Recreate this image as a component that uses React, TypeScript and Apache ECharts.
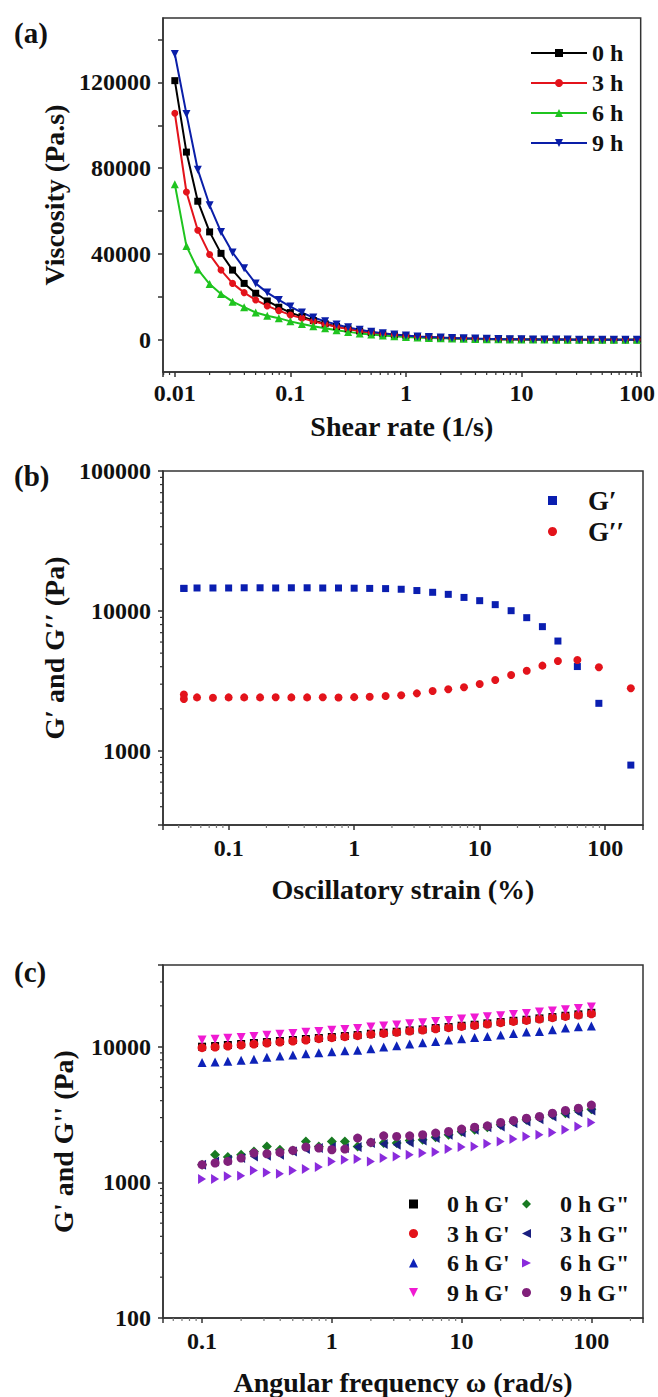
import { useEffect, useRef } from 'react';
import * as echarts from 'echarts';

const FONT = '"Liberation Serif", "Times New Roman", serif';
const INK = '#111';
const AXIS = '#333';

// ---------- Panel (a): viscosity vs shear rate ----------
const shearRate = [0.01, 0.0126, 0.0158, 0.02, 0.0251, 0.0316, 0.0398, 0.0501, 0.0631, 0.0794, 0.1, 0.126, 0.158, 0.2, 0.251, 0.316, 0.398, 0.501, 0.631, 0.794, 1, 1.26, 1.58, 2, 2.51, 3.16, 3.98, 5.01, 6.31, 7.94, 10, 12.6, 15.8, 20, 25.1, 31.6, 39.8, 50.1, 63.1, 79.4, 100];
const visc0h = [120800, 87500, 64600, 50300, 40300, 32500, 26300, 21700, 18100, 15200, 12700, 10800, 9000, 7500, 6200, 5100, 4100, 3300, 2700, 2200, 1800, 1450, 1170, 950, 770, 620, 500, 400, 320, 260, 210, 170, 135, 110, 88, 70, 56, 45, 36, 29, 23];
const visc3h = [105600, 68900, 51100, 39800, 32500, 26300, 22000, 18600, 15800, 13600, 11600, 10100, 8600, 7300, 6100, 5000, 4100, 3300, 2700, 2200, 1750, 1400, 1130, 910, 730, 590, 470, 380, 300, 245, 195, 155, 125, 100, 80, 64, 51, 41, 33, 26, 21];
const visc6h = [72500, 43700, 32800, 26000, 21400, 17800, 15200, 12700, 11200, 10100, 8600, 7400, 6300, 5400, 4500, 3700, 3000, 2500, 2000, 1650, 1350, 1100, 880, 710, 570, 460, 370, 300, 240, 190, 155, 125, 100, 80, 64, 51, 41, 33, 26, 21, 17];
const visc9h = [133200, 105300, 79300, 62700, 50300, 40700, 33300, 26300, 22000, 18600, 15500, 12700, 10400, 8600, 7100, 5800, 4700, 3800, 3100, 2500, 2000, 1600, 1300, 1050, 850, 690, 560, 450, 360, 290, 230, 190, 150, 120, 100, 80, 65, 52, 42, 34, 27];
const viscLabelTicks = [0, 40000, 80000, 120000];
const viscTicks = [0, 20000, 40000, 60000, 80000, 100000, 120000, 140000];
const shearMinor = [0.008, 0.009, 0.02, 0.03, 0.04, 0.05, 0.06, 0.07, 0.08, 0.09, 0.2, 0.3, 0.4, 0.5, 0.6, 0.7, 0.8, 0.9, 2, 3, 4, 5, 6, 7, 8, 9, 20, 30, 40, 50, 60, 70, 80, 90];

// ---------- Panel (b): amplitude sweep ----------
const strain = [0.044, 0.044, 0.056, 0.075, 0.1, 0.133, 0.178, 0.237, 0.316, 0.422, 0.562, 0.75, 1, 1.33, 1.78, 2.37, 3.16, 4.22, 5.62, 7.5, 10, 13.3, 17.8, 23.7, 31.6, 42, 60, 89, 160];
const strainGp = [14500, 14500, 14600, 14600, 14600, 14650, 14650, 14600, 14650, 14650, 14600, 14600, 14550, 14500, 14450, 14300, 14000, 13600, 13150, 12500, 11850, 11100, 10050, 8960, 7730, 6100, 4010, 2190, 793];
const strainGpp = [2530, 2350, 2415, 2400, 2415, 2415, 2415, 2420, 2415, 2415, 2420, 2410, 2425, 2440, 2470, 2500, 2580, 2680, 2760, 2850, 3010, 3210, 3490, 3740, 4070, 4390, 4470, 3960, 2810];
const strainMinorX = [0.04, 0.05, 0.06, 0.07, 0.08, 0.09, 0.2, 0.3, 0.4, 0.5, 0.6, 0.7, 0.8, 0.9, 2, 3, 4, 5, 6, 7, 8, 9, 20, 30, 40, 50, 60, 70, 80, 90];
const modMinorB = [400, 500, 600, 700, 800, 900, 2000, 3000, 4000, 5000, 6000, 7000, 8000, 9000, 20000, 30000, 40000, 50000, 60000, 70000, 80000, 90000];

// ---------- Panel (c): frequency sweep ----------
const freq = [0.1, 0.126, 0.158, 0.2, 0.251, 0.316, 0.398, 0.501, 0.631, 0.794, 1, 1.26, 1.58, 2, 2.51, 3.16, 3.98, 5.01, 6.31, 7.94, 10, 12.6, 15.8, 20, 25.1, 31.6, 39.8, 50.1, 63.1, 79.4, 100];
const gp0h = [10000, 10110, 10290, 10460, 10640, 10820, 11010, 11200, 11390, 11580, 11780, 11980, 12180, 12460, 12680, 12890, 13190, 13410, 13720, 13950, 14270, 14520, 14850, 15190, 15530, 15800, 16160, 16530, 16910, 17300, 17780];
const gp3h = [9830, 9940, 10110, 10290, 10460, 10640, 10820, 11010, 11200, 11450, 11650, 11850, 12050, 12330, 12530, 12750, 13040, 13260, 13560, 13800, 14110, 14350, 14680, 15020, 15360, 15620, 15980, 16350, 16720, 17100, 17490];
const gp6h = [7630, 7710, 7800, 7930, 8070, 8350, 8540, 8690, 8880, 9030, 9190, 9350, 9400, 9670, 9940, 10170, 10460, 10700, 10940, 11200, 11450, 11710, 11910, 12180, 12530, 12820, 12960, 13340, 13720, 14030, 14190];
const gp9h = [11200, 11320, 11520, 11710, 11910, 12120, 12330, 12530, 12750, 12960, 13190, 13410, 13640, 13950, 14190, 14440, 14770, 15020, 15360, 15620, 15980, 16250, 16630, 16910, 17300, 17590, 18000, 18300, 18720, 19150, 19590];
const gpp0h = [1349, 1597, 1535, 1597, 1690, 1841, 1739, 1719, 2003, 1841, 2003, 2003, 1841, 1970, 1946, 1946, 2037, 2060, 2154, 2242, 2371, 2440, 2552, 2655, 2809, 2889, 3021, 3143, 3235, 3385, 3463];
const gpp3h = [1349, 1427, 1468, 1510, 1553, 1571, 1597, 1690, 1759, 1789, 1820, 1789, 1820, 1946, 1914, 1892, 1970, 2037, 2120, 2242, 2332, 2440, 2552, 2582, 2730, 2809, 2923, 3056, 3197, 3290, 3385];
const gpp6h = [1058, 1058, 1107, 1120, 1225, 1184, 1158, 1225, 1254, 1297, 1427, 1468, 1485, 1427, 1510, 1553, 1597, 1643, 1671, 1759, 1820, 1841, 1925, 2003, 2084, 2181, 2242, 2332, 2440, 2582, 2763];
const gpp9h = [1349, 1388, 1427, 1510, 1643, 1625, 1661, 1719, 1820, 1789, 1739, 1759, 2120, 1970, 2204, 2181, 2204, 2242, 2306, 2371, 2468, 2552, 2611, 2763, 2857, 2971, 3056, 3235, 3385, 3522, 3710];
const freqMinorX = [0.06, 0.07, 0.08, 0.09, 0.2, 0.3, 0.4, 0.5, 0.6, 0.7, 0.8, 0.9, 2, 3, 4, 5, 6, 7, 8, 9, 20, 30, 40, 50, 60, 70, 80, 90, 200];
const modMinorC = [200, 300, 400, 500, 600, 700, 800, 900, 2000, 3000, 4000, 5000, 6000, 7000, 8000, 9000, 20000, 30000];

const legendA = ['0 h', '3 h', '6 h', '9 h'];
const legendB = ['G\u2032', 'G\u2032\u2032'];
const legendC1 = ["0 h G'", "3 h G'", "6 h G'", "9 h G'"];
const legendC2 = ['0 h G"', '3 h G"', '6 h G"', '9 h G"'];

const DOWN = 'path://M0,0L10,0L5,10Z';
const LEFT = 'path://M10,0L10,10L0,5Z';
const RIGHT = 'path://M0,0L0,10L10,5Z';

const zip = (xs: number[], ys: number[]) => xs.map((x, i) => [x, ys[i]]);

const logLabel = (v: number) => {
  const l = Math.log10(v);
  const p = Math.round(l);
  if (Math.abs(l - p) > 1e-6) return '';
  return p < 0 ? Math.pow(10, p).toFixed(-p) : String(Math.pow(10, p));
};

const txt = (size: number) => ({ fontFamily: FONT, fontWeight: 'bold' as const, fontSize: size, color: INK });

function minorTicks(idx: number, values: number[], dir: 'x' | 'y', ref: number, len: number, color: string) {
  return {
    type: 'custom',
    name: 'minor-' + idx + dir,
    xAxisIndex: idx,
    yAxisIndex: idx,
    silent: true,
    clip: false,
    z: 3,
    data: values.map((v) => (dir === 'x' ? [v, ref] : [ref, v])),
    renderItem: (_p: any, api: any) => {
      const pt = api.coord([api.value(0), api.value(1)]);
      const shape = dir === 'x'
        ? { x1: pt[0], y1: pt[1], x2: pt[0], y2: pt[1] + len }
        : { x1: pt[0] - len, y1: pt[1], x2: pt[0], y2: pt[1] };
      return { type: 'line', shape, style: { stroke: color, lineWidth: 1.2 } };
    },
  };
}

const axisCommon = {
  splitLine: { show: false },
  axisLine: { show: true, onZero: false, lineStyle: { color: AXIS, width: 1.5 } },
  axisTick: { show: true, inside: false, length: 5, lineStyle: { color: AXIS, width: 1.5 } },
  nameLocation: 'middle' as const,
  nameTextStyle: txt(28),
};

const AX = [0.0079, 107.6];
const AY = [-15000, 150000];
const BX = [0.03, 200];
const BY = [296, 100000];
const CX = [0.05, 250];
const CY = [100, 40000];

const scatterStyle = { opacity: 1 };

export default function App() {
  const ref = useRef<HTMLDivElement>(null);
  useEffect(() => {
    document.body.style.margin = '0';
    document.body.style.background = '#fff';
    const chart = echarts.init(ref.current!, null, { renderer: 'svg' });
    const gridStyle = { show: true, borderColor: AXIS, borderWidth: 1.5, backgroundColor: 'transparent' };
    const option: any = {
      animation: false,
      backgroundColor: '#fff',
      title: [
        { text: '(a)', left: 9, top: 13, textStyle: txt(29) },
        { text: '(b)', left: 9, top: 456, textStyle: txt(29) },
        { text: '(c)', left: 9, top: 952, textStyle: txt(29) },
      ],
      grid: [
        { left: 163, top: 18, width: 480, height: 354, ...gridStyle },
        { left: 163, top: 471, width: 480, height: 354, ...gridStyle },
        { left: 163, top: 965, width: 480, height: 353, ...gridStyle },
      ],
      xAxis: [
        { ...axisCommon, gridIndex: 0, type: 'log', logBase: 10, min: AX[0], max: AX[1], name: 'Shear rate (1/s)', nameGap: 40,
          axisLabel: { ...txt(24), margin: 9, formatter: logLabel } },
        { ...axisCommon, gridIndex: 1, type: 'log', logBase: 10, min: BX[0], max: BX[1], name: 'Oscillatory strain (%)', nameGap: 50,
          axisLabel: { ...txt(24), margin: 11, formatter: logLabel } },
        { ...axisCommon, gridIndex: 2, type: 'log', logBase: 10, min: CX[0], max: CX[1], name: 'Angular frequency \u03c9 (rad/s)', nameGap: 50,
          axisLabel: { ...txt(24), margin: 11, formatter: logLabel } },
      ],
      yAxis: [
        { ...axisCommon, gridIndex: 0, type: 'value', min: AY[0], max: AY[1], name: 'Viscosity (Pa.s)', nameGap: 86,
          axisTick: { ...axisCommon.axisTick, customValues: viscTicks },
          axisLabel: { ...txt(24), margin: 12, customValues: viscLabelTicks, formatter: (v: number) => String(v) } },
        { ...axisCommon, gridIndex: 1, type: 'log', logBase: 10, min: BY[0], max: BY[1], name: 'G\u2032 and G\u2032\u2032 (Pa)', nameGap: 86,
          axisLabel: { ...txt(24), margin: 12, formatter: logLabel } },
        { ...axisCommon, gridIndex: 2, type: 'log', logBase: 10, min: CY[0], max: CY[1], name: "G' and G'' (Pa)", nameGap: 86,
          axisLabel: { ...txt(24), margin: 12, formatter: logLabel } },
      ],
      legend: [
        { data: legendA, orient: 'vertical', left: 525, top: 36, itemWidth: 56, itemHeight: 10, itemGap: 6, selectedMode: false, textStyle: txt(24) },
        { data: legendB, orient: 'vertical', left: 543, top: 482, itemWidth: 9, itemHeight: 9, itemGap: 4, selectedMode: false, textStyle: { ...txt(27), padding: [0, 0, 0, 26] } },
        { data: legendC1, orient: 'vertical', left: 404, top: 1187, itemWidth: 9, itemHeight: 9, itemGap: 5.5, selectedMode: false, textStyle: { ...txt(24), padding: [0, 0, 0, 24] } },
        { data: legendC2, orient: 'vertical', left: 517, top: 1187, itemWidth: 9, itemHeight: 9, itemGap: 5.5, selectedMode: false, textStyle: { ...txt(24), padding: [0, 0, 0, 24] } },
      ],
      series: [
        // (a)
        { name: '0 h', type: 'line', xAxisIndex: 0, yAxisIndex: 0, data: zip(shearRate, visc0h), symbol: 'rect', symbolSize: 7, color: '#000000', lineStyle: { width: 2 } },
        { name: '3 h', type: 'line', xAxisIndex: 0, yAxisIndex: 0, data: zip(shearRate, visc3h), symbol: 'circle', symbolSize: 7, color: '#e3131b', lineStyle: { width: 2 } },
        { name: '6 h', type: 'line', xAxisIndex: 0, yAxisIndex: 0, data: zip(shearRate, visc6h), symbol: 'triangle', symbolSize: 8, color: '#1fc41f', lineStyle: { width: 2 } },
        { name: '9 h', type: 'line', xAxisIndex: 0, yAxisIndex: 0, data: zip(shearRate, visc9h), symbol: DOWN, symbolSize: 8, color: '#0a1ea8', lineStyle: { width: 2 } },
        // (b)
        { name: legendB[0], type: 'scatter', xAxisIndex: 1, yAxisIndex: 1, data: zip(strain, strainGp), symbol: 'rect', symbolSize: 7, color: '#0a1eb0', itemStyle: scatterStyle },
        { name: legendB[1], type: 'scatter', xAxisIndex: 1, yAxisIndex: 1, data: zip(strain, strainGpp), symbol: 'circle', symbolSize: 8, color: '#e3131b', itemStyle: scatterStyle },
        // (c)
        { name: legendC1[0], type: 'scatter', xAxisIndex: 2, yAxisIndex: 2, data: zip(freq, gp0h), symbol: 'rect', symbolSize: 8, color: '#000000', itemStyle: scatterStyle },
        { name: legendC1[1], type: 'scatter', xAxisIndex: 2, yAxisIndex: 2, data: zip(freq, gp3h), symbol: 'circle', symbolSize: 9, color: '#e3131b', itemStyle: scatterStyle },
        { name: legendC1[2], type: 'scatter', xAxisIndex: 2, yAxisIndex: 2, data: zip(freq, gp6h), symbol: 'triangle', symbolSize: 9, color: '#0d22b8', itemStyle: scatterStyle },
        { name: legendC1[3], type: 'scatter', xAxisIndex: 2, yAxisIndex: 2, data: zip(freq, gp9h), symbol: DOWN, symbolSize: 9, color: '#f01ad2', itemStyle: scatterStyle },
        { name: legendC2[0], type: 'scatter', xAxisIndex: 2, yAxisIndex: 2, data: zip(freq, gpp0h), symbol: 'diamond', symbolSize: 10, color: '#187a22', itemStyle: scatterStyle },
        { name: legendC2[1], type: 'scatter', xAxisIndex: 2, yAxisIndex: 2, data: zip(freq, gpp3h), symbol: LEFT, symbolSize: [8, 10], color: '#1a1f80', itemStyle: scatterStyle },
        { name: legendC2[2], type: 'scatter', xAxisIndex: 2, yAxisIndex: 2, data: zip(freq, gpp6h), symbol: RIGHT, symbolSize: [8, 10], color: '#8a2bdc', itemStyle: scatterStyle },
        { name: legendC2[3], type: 'scatter', xAxisIndex: 2, yAxisIndex: 2, data: zip(freq, gpp9h), symbol: 'circle', symbolSize: 9, color: '#80207a', itemStyle: scatterStyle },
        // minor ticks
        minorTicks(0, shearMinor, 'x', AY[0], 3, AXIS),
        minorTicks(1, strainMinorX, 'x', BY[0], 3, '#777'),
        minorTicks(1, modMinorB, 'y', BX[0], 3, AXIS),
        minorTicks(2, freqMinorX, 'x', CY[0], 3, '#777'),
        minorTicks(2, modMinorC, 'y', CX[0], 3, AXIS),
      ],
    };
    chart.setOption(option);
    return () => chart.dispose();
  }, []);
  return <div ref={ref} style={{ width: 658, height: 1397 }} />;
}
